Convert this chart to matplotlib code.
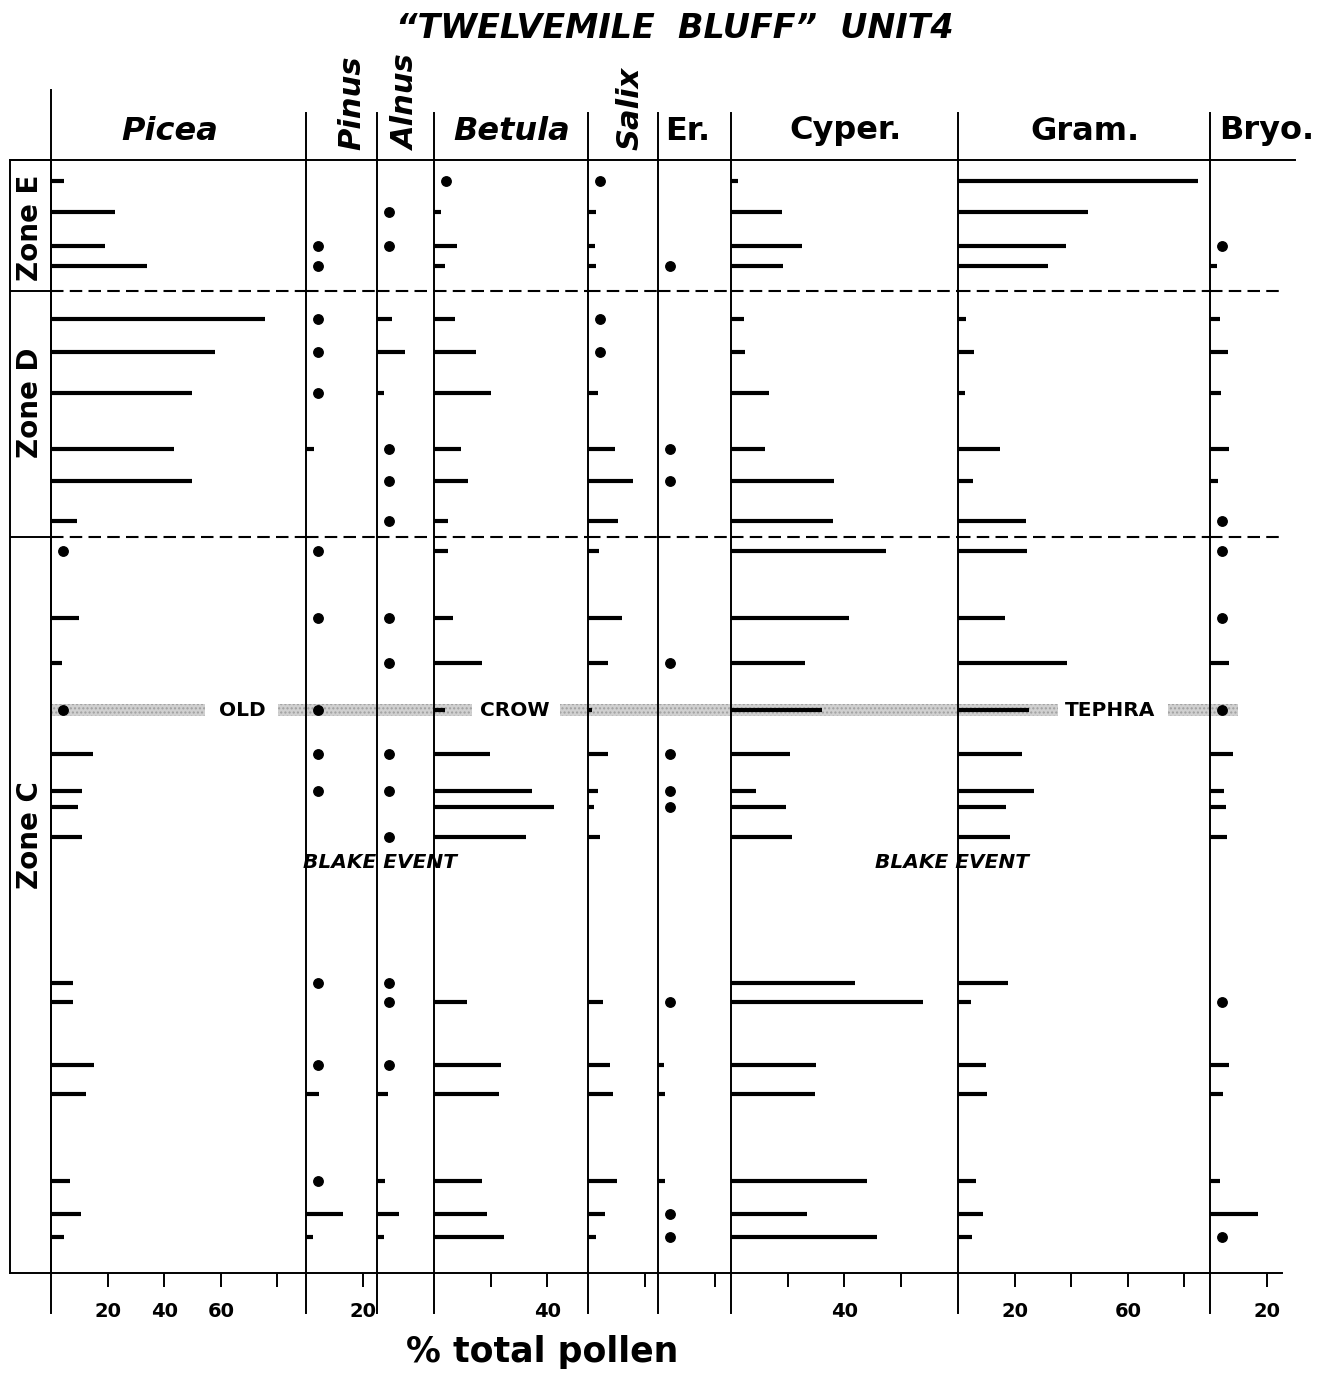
import matplotlib
matplotlib.use('Agg')
import matplotlib.pyplot as plt
from matplotlib.lines import Line2D
from matplotlib.patches import Rectangle
import matplotlib.transforms as mtransforms

P = '+'   # taxon present, < 1 %

# sample depths (arbitrary depth units, top of section = 0)
depth = [21, 52, 86, 106, 159, 192, 233, 289, 321, 361, 391, 458, 503,
         550, 594, 631, 647, 677, 823, 842, 905, 934, 1021, 1054, 1077]
depth_max = 1113

picea = [4.5, 22.6, 19, 33.8, 75.6, 58, 49.7, 43.6, 49.7, 9.3, P, 10, 4,
         P, 14.7, 11, 9.4, 10.8, 7.7, 7.9, 15.2, 12.4, 6.7, 10.6, 4.7]
pinus = [None, None, P, P, P, P, P, 3, None, None, P, P, None,
         P, P, P, None, None, P, None, P, 4.5, P, 13, 2.5]
alnus = [None, P, P, None, 5.3, 10, 2.5, P, P, P, None, P, P,
         None, P, P, None, P, P, P, P, 4, 3, 7.8, 2.5]
betula = [P, 2.4, 8.2, 3.8, 7.5, 15, 20, 9.6, 12, 5, 5, 6.7, 17,
          4, 19.7, 34.7, 42.4, 32.6, None, 11.5, 23.7, 22.8, 17, 18.7, 24.8]
salix = [P, 3, 2.6, 2.8, P, P, 3.5, 9.4, 15.9, 10.6, 4, 12, 7,
         1.5, 7, 3.4, 2.1, 4.3, None, 5.2, 7.6, 9, 10.3, 6, 2.9]
ericales = [None, None, None, P, None, None, None, P, P, None, None, None, P,
            None, P, P, P, None, None, P, 2, 2.6, 2.5, P, P]
cyper = [2.6, 18, 25, 18.4, 4.6, 5, 13.4, 11.9, 36.3, 35.9, 54.8, 41.6, 26,
         32, 20.8, 9, 19.3, 21.7, 43.8, 68, 30, 29.7, 48.2, 26.7, 51.5]
gram = [84.8, 45.8, 38, 31.7, 3, 5.8, 2.5, 14.8, 5.3, 24, 24.5, 16.5, 38.4,
        25, 22.7, 27, 17, 18.4, 17.7, 4.5, 9.8, 10.1, 6.3, 8.8, 4.8]
bryo = [None, None, P, 2.5, 3.5, 6.2, 3.9, 6.7, 2.7, P, P, P, 6.8,
        P, 8.2, 5, 5.6, 5.9, None, P, 6.6, 4.7, 3.5, 16.8, P]

taxa = ['Picea', 'Pinus', 'Alnus', 'Betula', 'Salix', 'Er.', 'Cyper.', 'Gram.', 'Bryo.']
series = [picea, pinus, alnus, betula, salix, ericales, cyper, gram, bryo]
tick_labels = [
    {20: '20', 40: '40', 60: '60', 80: ''},
    {20: '20'},
    {},
    {20: '', 40: '40'},
    {20: ''},
    {20: ''},
    {20: '', 40: '40', 60: ''},
    {20: '20', 40: '', 60: '60', 80: ''},
    {20: '20'},
]

zone_names = ['Zone E', 'Zone D', 'Zone C']
zone_bounds = [131, 377]
zone_label_depth = [68, 243, 675]
tephra_depth = 550
blake_depth = 702

# ---- layout (pixels of the 1339 x 1378 image)
W, H = 1339, 1378
TOP, BOT = 160, 1273
col_left = [51, 306, 377, 434, 588, 658, 731, 958, 1210]
col_right = col_left[1:] + [1282]
PX_PER_PCT = 2.83
DOT_X = 4.2


def fx(x):
    return x / W


def fy(y):
    return 1 - y / H


fig = plt.figure(figsize=(W / 100, H / 100), dpi=100)
plt.rcParams['font.family'] = 'DejaVu Sans'


def fline(xs, ys, lw=1.4):
    fig.add_artist(Line2D([fx(x) for x in xs], [fy(y) for y in ys],
                          color='black', lw=lw))


axes = []
for name, vals, x0, x1, tl in zip(taxa, series, col_left, col_right, tick_labels):
    ax = fig.add_axes([fx(x0), fy(BOT), (x1 - x0) / W, (BOT - TOP) / H])
    ax.set_xlim(0, (x1 - x0) / PX_PER_PCT)
    ax.set_ylim(depth_max, 0)
    ax.patch.set_visible(False)
    ax.spines['top'].set_visible(False)
    ax.spines['right'].set_visible(False)
    ax.spines['left'].set_linewidth(1.4)
    ax.spines['bottom'].set_linewidth(1.4)
    ax.set_yticks([])
    ax.set_xticks(list(tl.keys()))
    ax.set_xticklabels(list(tl.values()), fontweight='bold')
    ax.tick_params(axis='x', direction='out', length=10, width=1.4, pad=11,
                   labelsize=14)

    bd = [d for d, v in zip(depth, vals) if v is not None and v != P]
    bv = [v for v in vals if v is not None and v != P]
    ax.hlines(bd, 0, bv, color='black', lw=3.0)
    pd = [d for d, v in zip(depth, vals) if v == P]
    ax.plot([DOT_X] * len(pd), pd, 'o', color='black', ms=6.8, clip_on=False)

    for b in zone_bounds:
        ax.axhline(b, color='black', lw=1.5, ls=(0, (6, 3)))
    axes.append(ax)

# zone column
axz = fig.add_axes([fx(10), fy(BOT), (51 - 10) / W, (BOT - TOP) / H])
axz.set_ylim(depth_max, 0)
axz.set_xlim(0, 1)
axz.patch.set_visible(False)
axz.set_xticks([])
axz.set_yticks([])
for s in axz.spines.values():
    s.set_linewidth(1.4)
for b in zone_bounds:
    axz.axhline(b, color='black', lw=1.4)
for name, d in zip(zone_names, zone_label_depth):
    axz.text(0.5, d, name, transform=axz.get_yaxis_transform(),
             rotation=90, ha='center', va='center', fontsize=20,
             fontweight='bold')

# frame lines
fline([10, 1295], [TOP, TOP])
fline([51, 51], [90, TOP])
for x in col_left[1:]:
    fline([x, x], [113, TOP])
for x in col_left:
    fline([x, x], [BOT, 1313])

# tephra band and event labels
trans = mtransforms.blended_transform_factory(fig.transFigure, axes[0].transData)
for x0, x1 in [(51, 205), (278, 472), (560, 1058), (1168, 1238)]:
    fig.add_artist(Rectangle((fx(x0), tephra_depth - 6), fx(x1) - fx(x0), 12,
                             transform=trans, facecolor='#d0d0d0',
                             edgecolor='#a0a0a0', hatch='....', lw=0,
                             zorder=-1))
for x, s in [(242, 'OLD'), (515, 'CROW'), (1110, 'TEPHRA')]:
    fig.text(fx(x), tephra_depth, s, transform=trans, ha='center',
             va='center', fontsize=14.5, fontweight='bold')
for x in [380, 952]:
    fig.text(fx(x), blake_depth, 'BLAKE EVENT', transform=trans,
             ha='center', va='center', fontsize=14.5, fontweight='bold',
             style='italic')

# column titles
upright = {'Picea': (170, True), 'Betula': (512, True), 'Er.': (688, False),
           'Cyper.': (845, False), 'Gram.': (1085, False), 'Bryo.': (1267, False)}
for name, (x, it) in upright.items():
    fig.text(fx(x), fy(131), name, ha='center', va='center', fontsize=23,
             fontweight='bold', style='italic' if it else 'normal')
for name, x in [('Pinus', 352), ('Alnus', 406), ('Salix', 630)]:
    fig.text(fx(x), fy(150), name, rotation=90, ha='center', va='bottom',
             fontsize=22, fontweight='bold', style='italic')

fig.text(fx(675), fy(28), '\u201cTWELVEMILE  BLUFF\u201d  UNIT4', ha='center',
         va='center', fontsize=24, fontweight='bold', style='italic')
fig.text(fx(542), fy(1352), '% total pollen', ha='center', va='center',
         fontsize=25, fontweight='bold')

fig.savefig('out.png', dpi=100)
